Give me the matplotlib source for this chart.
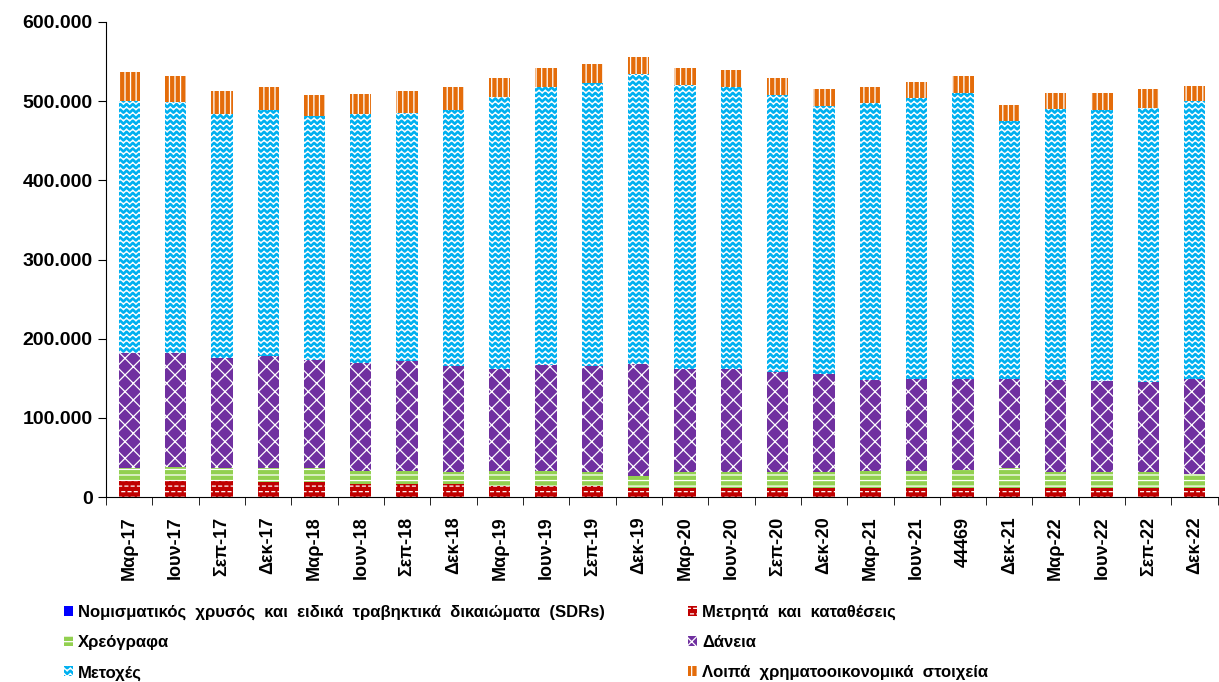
import warnings

import matplotlib
matplotlib.use("Agg")
import matplotlib.hatch as mhatch
import matplotlib.pyplot as plt
import numpy as np
from matplotlib.patches import Patch
from matplotlib.path import Path
from matplotlib.ticker import FuncFormatter, FixedLocator

warnings.filterwarnings("ignore")

# values in thousands of euro
categories = ["Μαρ-17", "Ιουν-17", "Σεπ-17", "Δεκ-17", "Μαρ-18", "Ιουν-18", "Σεπ-18", "Δεκ-18",
              "Μαρ-19", "Ιουν-19", "Σεπ-19", "Δεκ-19", "Μαρ-20", "Ιουν-20", "Σεπ-20", "Δεκ-20",
              "Μαρ-21", "Ιουν-21", "44469", "Δεκ-21", "Μαρ-22", "Ιουν-22", "Σεπ-22", "Δεκ-22"]
gold_sdr = [0.2] * 24
cash = [20, 20, 20, 19, 19, 16, 16, 16, 14, 14, 14, 12, 12, 12, 12, 11, 11, 11, 12, 12, 11, 12, 12, 11]
securities = [17, 18, 17, 17, 17, 17, 17, 16, 19, 19, 17, 15, 19, 20, 20, 21, 22, 22, 22, 24, 21, 19, 19, 18]
loans = [145, 144, 139, 142, 137, 136, 139, 133, 129, 134, 134, 141, 131, 130, 126, 123, 115, 116, 115, 113,
         116, 116, 114, 120]
shares = [318, 317, 308, 311, 308, 315, 313, 324, 343, 350, 357, 366, 358, 355, 349, 339, 349, 355, 361, 326,
          342, 342, 346, 351]
other = [36, 33, 29, 29, 27, 25, 28, 28, 24, 24, 24, 22, 22, 22, 22, 21, 20, 20, 21, 20, 20, 21, 24, 19]

labels = ["Νομισματικός  χρυσός  και  ειδικά  τραβηκτικά  δικαιώματα  (SDRs)",
          "Μετρητά  και  καταθέσεις",
          "Χρεόγραφα",
          "Δάνεια",
          "Μετοχές",
          "Λοιπά  χρηματοοικονομικά  στοιχεία"]


class WaveHatch(mhatch.HatchPatternBase):
    steps = 64

    def __init__(self, hatch, density):
        self.num_lines = int(hatch.count("~") * density)
        self.num_vertices = self.num_lines * (self.steps + 1)

    def set_vertices_and_codes(self, vertices, codes):
        k = self.steps + 1
        xs = np.linspace(0, 1, k)
        for i in range(self.num_lines):
            y0 = (i + 0.5) / self.num_lines
            ys = y0 + 0.28 / self.num_lines * np.sin(xs * 2 * np.pi * 16)
            vertices[i * k:(i + 1) * k, 0] = xs
            vertices[i * k:(i + 1) * k, 1] = ys
            codes[i * k] = Path.MOVETO
            codes[i * k + 1:(i + 1) * k] = Path.LINETO


class DashHatch(mhatch.HatchPatternBase):
    per_row = 16

    def __init__(self, hatch, density):
        self.num_lines = int(hatch.count("_") * density)
        self.num_vertices = self.num_lines * self.per_row * 2

    def set_vertices_and_codes(self, vertices, codes):
        n = 0
        step = 1.0 / self.per_row
        for i in range(self.num_lines):
            y = (i + 0.5) / self.num_lines
            off = (i % 2) * step / 2
            for j in range(self.per_row):
                x0 = (j * step + off) % 1.0
                vertices[n] = (x0, y)
                vertices[n + 1] = (min(x0 + step * 0.45, 1.0), y)
                codes[n] = Path.MOVETO
                codes[n + 1] = Path.LINETO
                n += 2


mhatch._hatch_types.extend([WaveHatch, DashHatch])

plt.rcParams["font.family"] = ["Liberation Sans", "DejaVu Sans"]
plt.rcParams["hatch.linewidth"] = 0.9

colors = ["#0000FF", "#C00000", "#92D050", "#7030A0", "#00B0F0", "#E46C0A"]
hatches = [None, "___", "---", "xx", "~~~", "|||"]
series = [gold_sdr, cash, securities, loans, shares, other]

fig = plt.figure(figsize=(12.19, 6.82), dpi=100)
ax = fig.add_axes([0.087, 0.271, 0.912, 0.697])

x = np.arange(len(categories))
bottom = np.zeros(len(categories))
handles = []
for vals, color, hatch, label in zip(series, colors, hatches, labels):
    ax.bar(x, vals, 0.46, bottom=bottom, color=color, edgecolor="white", linewidth=0, hatch=hatch)
    bottom += np.array(vals)
    handles.append(Patch(facecolor=color, edgecolor="white", linewidth=0, hatch=hatch, label=label))

ax.set_xlim(-0.5, len(categories) - 0.5)
ax.set_ylim(0, 600)
ax.set_yticks(np.arange(0, 601, 100))
ax.yaxis.set_major_formatter(FuncFormatter(lambda v, p: f"{int(v * 1000):,}".replace(",", ".")))
ax.set_xticks(x)
ax.set_xticklabels(categories, rotation=90, fontsize=13, fontweight="bold")
ax.xaxis.set_minor_locator(FixedLocator(np.arange(-0.5, len(categories), 1)))
ax.tick_params(axis="x", which="major", length=0, pad=14)
ax.tick_params(axis="x", which="minor", length=6, direction="out")
ax.tick_params(axis="y", length=6, labelsize=14)
for t in ax.get_yticklabels():
    t.set_fontweight("bold")
ax.spines["top"].set_visible(False)
ax.spines["right"].set_visible(False)

order = [0, 2, 4, 1, 3, 5]
fig.legend([handles[i] for i in order], [labels[i] for i in order], ncol=2,
           loc="upper left", bbox_to_anchor=(0.04, 0.135), frameon=False,
           prop={"size": 12, "weight": "bold"}, handlelength=0.55, handleheight=0.55,
           handletextpad=0.3, labelspacing=0.9, columnspacing=5.0)

fig.savefig("out.png", dpi=100)
